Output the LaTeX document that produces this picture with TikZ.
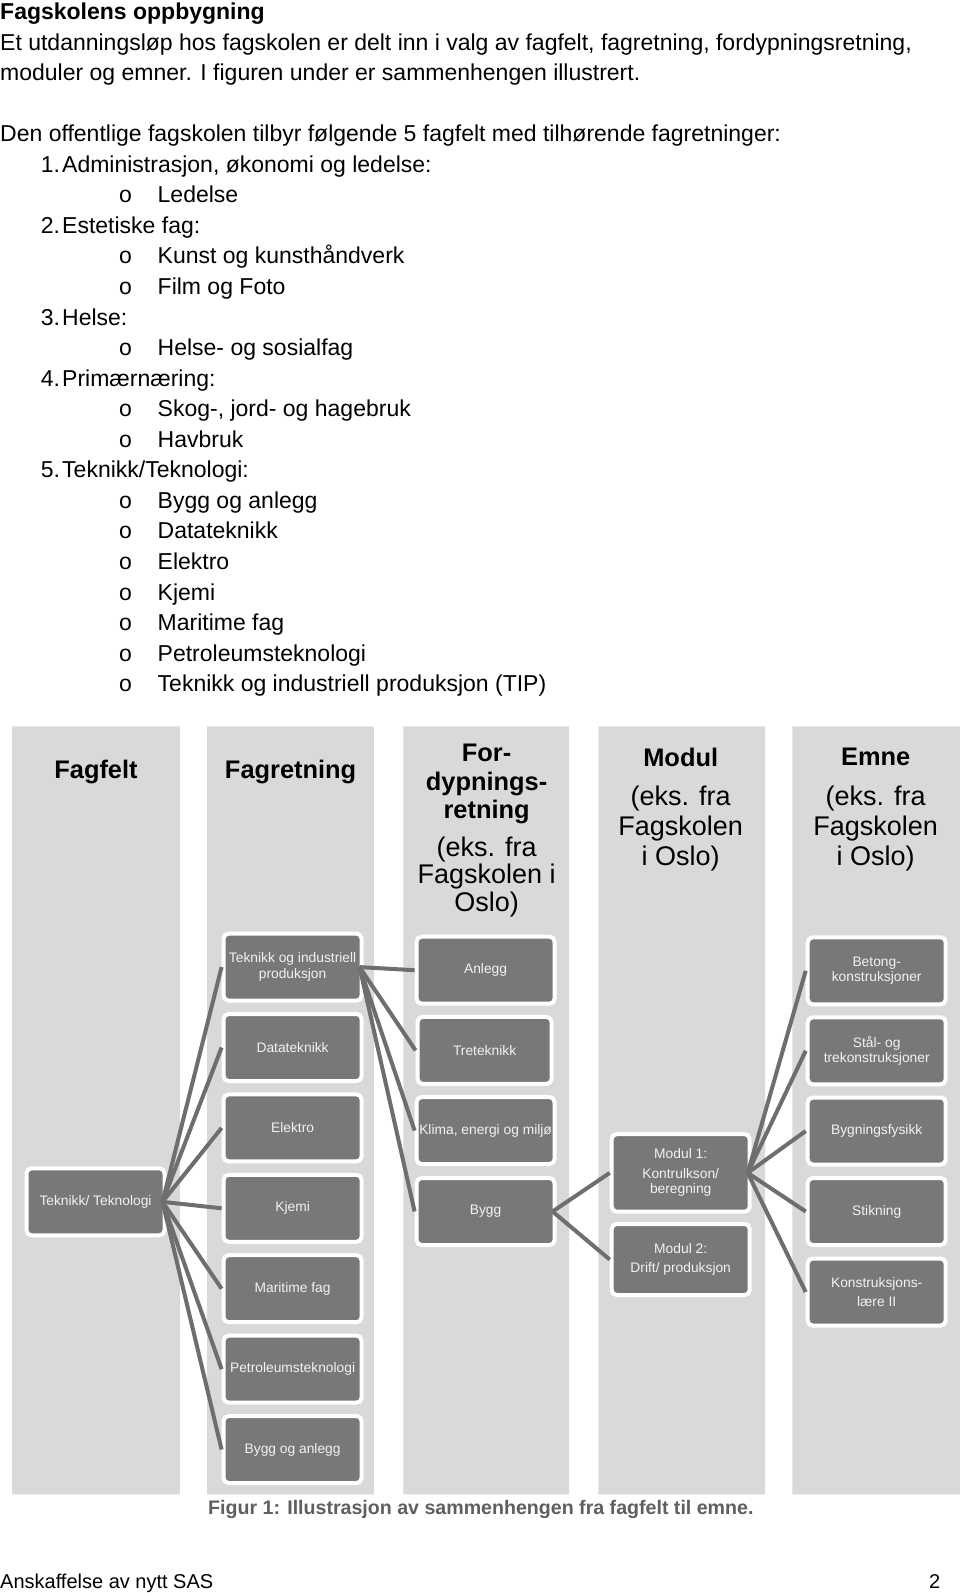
\documentclass[tikz,border=0pt]{standalone}
\usepackage{fontspec}
\setmainfont{Liberation Sans}
\usetikzlibrary{positioning}
\definecolor{kolgraa}{HTML}{D9D9D9}
\definecolor{boksgraa}{HTML}{78787A}
\definecolor{linjegraa}{HTML}{6E6E70}
\definecolor{figgraa}{HTML}{5F5F5F}
\newcommand\brod{\fontsize{23}{30.5}\selectfont}
\tikzset{
  tekst/.style={anchor=base west, inner sep=0pt, font=\brod},
  boks/.style={draw=white, line width=4pt, fill=boksgraa, rounded corners=5pt,
    text=white!95!black, minimum width=138pt, minimum height=67pt, align=center,
    inner sep=1pt, font=\fontsize{13.8}{15.5}\selectfont},
  tittel/.style={align=center, inner sep=0pt, font=\bfseries\fontsize{25.4}{28.4}\selectfont},
  under/.style={align=center, inner sep=0pt, font=\fontsize{27}{30}\selectfont},
  linje/.style={draw=linjegraa, line width=4pt}
}

\begin{document}
\begin{tikzpicture}[x=1pt, y=-1pt]
      \useasboundingbox (0, 0) rectangle (960, 1593);
      \fill [white] (0, 0) rectangle (960, 1593);
      % tekst over figuren
      \node [tekst, font=\brod\bfseries] (overskrift) at (0, 19.5) {Fagskolens oppbygning};
      \node [tekst] (linje1) at (0, 50) {Et utdanningsløp hos fagskolen er delt inn i valg av fagfelt, fagretning, fordypningsretning,};
      \node [tekst] (linje2) at (0, 80.6) {moduler og emner. I figuren under er sammenhengen illustrert.};
      \node [tekst] (linje3) at (0, 141.7) {Den offentlige fagskolen tilbyr følgende 5 fagfelt med tilhørende fagretninger:};
      \node [tekst] (n1) at (40.6, 172.3) {1.};
      \node [tekst] (adm) at (62, 172.3) {Administrasjon, økonomi og ledelse:};
      \node [tekst] (o1) at (119, 202.8) {o};
      \node [tekst] (ledelse) at (157.5, 202.8) {Ledelse};
      \node [tekst] (n2) at (40.6, 233.4) {2.};
      \node [tekst] (estetisk) at (62, 233.4) {Estetiske fag:};
      \node [tekst] (o2) at (119, 263.9) {o};
      \node [tekst] (kunst) at (157.5, 263.9) {Kunst og kunsthåndverk};
      \node [tekst] (o3) at (119, 294.5) {o};
      \node [tekst] (film) at (157.5, 294.5) {Film og Foto};
      \node [tekst] (n3) at (40.6, 325) {3.};
      \node [tekst] (helse) at (62, 325) {Helse:};
      \node [tekst] (o4) at (119, 355.6) {o};
      \node [tekst] (sosial) at (157.5, 355.6) {Helse- og sosialfag};
      \node [tekst] (n4) at (40.6, 386.1) {4.};
      \node [tekst] (primaer) at (62, 386.1) {Primærnæring:};
      \node [tekst] (o5) at (119, 416.7) {o};
      \node [tekst] (skog) at (157.5, 416.7) {Skog-, jord- og hagebruk};
      \node [tekst] (o6) at (119, 447.2) {o};
      \node [tekst] (havbruk) at (157.5, 447.2) {Havbruk};
      \node [tekst] (n5) at (40.6, 477.8) {5.};
      \node [tekst] (teknikk) at (62, 477.8) {Teknikk/Teknologi:};
      \node [tekst] (o7) at (119, 508.3) {o};
      \node [tekst] (t1) at (157.5, 508.3) {Bygg og anlegg};
      \node [tekst] (o8) at (119, 538.9) {o};
      \node [tekst] (t2) at (157.5, 538.9) {Datateknikk};
      \node [tekst] (o9) at (119, 569.4) {o};
      \node [tekst] (t3) at (157.5, 569.4) {Elektro};
      \node [tekst] (o10) at (119, 600) {o};
      \node [tekst] (t4) at (157.5, 600) {Kjemi};
      \node [tekst] (o11) at (119, 630.5) {o};
      \node [tekst] (t5) at (157.5, 630.5) {Maritime fag};
      \node [tekst] (o12) at (119, 661.1) {o};
      \node [tekst] (t6) at (157.5, 661.1) {Petroleumsteknologi};
      \node [tekst] (o13) at (119, 691.6) {o};
      \node [tekst] (t7) at (157.5, 691.6) {Teknikk og industriell produksjon (TIP)};
      % kolonnene
      \fill [kolgraa] (12.2, 726.4) rectangle (179.8, 1494.4)
                      (207.2, 726.4) rectangle (373.9, 1494.4)
                      (403.3, 726.4) rectangle (569, 1494.4)
                      (598.4, 726.4) rectangle (765, 1494.4)
                      (792.4, 726.4) rectangle (960, 1494.4);
      \node [tittel] (fagfelt) at (96, 772) {Fagfelt};
      \node [tittel] (fagretning) at (290.6, 772) {Fagretning};
      \node [tittel] (fordypning) at (486.6, 784.2) {For-\\dypnings-\\retning};
      \node [under, font=\fontsize{27}{27.4}\selectfont] (fordypeks) at (486.6, 876.7) {(eks. fra\\Fagskolen i\\Oslo)};
      \node [tittel] (modul) at (680.7, 757) {Modul};
      \node [under] (moduleks) at (680.7, 828.6) {(eks. fra\\Fagskolen\\i Oslo)};
      \node [tittel] (emne) at (875.7, 757) {Emne};
      \node [under] (emneeks) at (875.7, 828.6) {(eks. fra\\Fagskolen\\i Oslo)};
      % boksene
      \node [boks] (teknologi) at (95.5, 1201.8) {Teknikk/ Teknologi};
      \node [boks] (tip) at (292.6, 967.1) {Teknikk og industriell\\produksjon};
      \node [boks] (data) at (292.6, 1047.5) {Datateknikk};
      \node [boks] (elektro) at (292.6, 1127.9) {Elektro};
      \node [boks] (kjemi) at (292.6, 1208.3) {Kjemi};
      \node [boks] (maritim) at (292.6, 1288.7) {Maritime fag};
      \node [boks] (petro) at (292.6, 1369.1) {Petroleumsteknologi};
      \node [boks] (bygganlegg) at (292.6, 1449.5) {Bygg og anlegg};
      \node [boks] (anlegg) at (485.6, 970.2) {Anlegg};
      \node [boks, minimum width=134pt] (tre) at (484.6, 1050.4) {Treteknikk};
      \node [boks] (klima) at (485.6, 1130.6) {Klima, energi og miljø};
      \node [boks] (bygg) at (485.6, 1211.5) {Bygg};
      \node [boks, minimum height=77.6pt] (modul1) at (680.7, 1172.9) {Modul 1:\\[4pt]Kontrulkson/\\beregning};
      \node [boks, minimum height=71pt] (modul2) at (680.7, 1259.5) {Modul 2:\\[4pt]Drift/ produksjon};
      \node [boks] (betong) at (876.7, 970.8) {Betong-\\konstruksjoner};
      \node [boks] (staal) at (876.7, 1050.8) {Stål- og\\trekonstruksjoner};
      \node [boks] (fysikk) at (876.7, 1131) {Bygningsfysikk};
      \node [boks] (stikning) at (876.7, 1211.5) {Stikning};
      \node [boks] (konstr) at (876.7, 1292) {Konstruksjons-\\[4pt]lære II};
      % forbindelsene
      \draw [linje] ([xshift=-4pt]teknologi.east) edge (tip.west) edge (data.west) edge (elektro.west)
                    edge (kjemi.west) edge (maritim.west) edge (petro.west) edge (bygganlegg.west);
      \draw [linje] ([xshift=-4pt]tip.east) edge (anlegg.west) edge (tre.west) edge (klima.west) edge (bygg.west);
      \draw [linje] ([xshift=-4pt]bygg.east) edge (modul1.west) edge (modul2.west);
      \draw [linje] ([xshift=-4pt]modul1.east) edge (betong.west) edge (staal.west) edge (fysikk.west)
                    edge (stikning.west) edge (konstr.west);
      \node [anchor=base west, inner sep=0pt, text=figgraa, font=\bfseries\fontsize{19.6}{22}\selectfont]
            (figur) at (208, 1514.6) {Figur 1: Illustrasjon av sammenhengen fra fagfelt til emne.};
      \node [anchor=base west, inner sep=0pt, font=\fontsize{20}{24}\selectfont] (bunn) at (0, 1588) {Anskaffelse av nytt SAS};
      \node [anchor=base west, inner sep=0pt, font=\fontsize{20}{24}\selectfont] (side) at (929, 1588) {2};
\end{tikzpicture}
\end{document}
